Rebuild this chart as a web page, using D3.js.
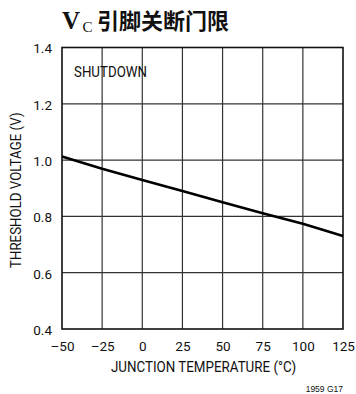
<!DOCTYPE html>
<html>
<head>
<meta charset="utf-8">
<script src="https://cdn.jsdelivr.net/npm/d3@7"></script>
<style>
  html, body { margin: 0; padding: 0; background: #fff; }
  svg { display: block; }
  .tick text, .lbl { font-family: "Roboto", "Liberation Sans", sans-serif; fill: #111; }
</style>
</head>
<body>
<svg id="chart" width="356" height="394"></svg>
<script>
// ─── Data ─────────────────────────────────────────────────────────────────────
const temps    = [-50, -25, 0, 25, 50, 75, 100, 125];
const vth      = [1.013, 0.969, 0.929, 0.890, 0.850, 0.811, 0.774, 0.730];
const xTicks   = [-50, -25, 0, 25, 50, 75, 100, 125];
const yTicks   = [0.4, 0.6, 0.8, 1.0, 1.2, 1.4];

const W = 356, H = 394;
const M = { top: 47.5, right: 13, bottom: 65, left: 62 };
const IW = W - M.left - M.right;
const IH = H - M.top - M.bottom;

const x = d3.scaleLinear().domain([-50, 125]).range([0, IW]);
const y = d3.scaleLinear().domain([0.4, 1.4]).range([IH, 0]);

const svg = d3.select('#chart');

// ── Title ───────────────────────────────────────────────────────────────────
svg.append('text').attr('x', 62).attr('y', 29).attr('fill', '#111')
  .attr('font-family', '"Liberation Serif", serif').attr('font-weight', 700)
  .attr('font-size', 25).text('V');
svg.append('text').attr('x', 82.5).attr('y', 31.5).attr('fill', '#111')
  .attr('font-family', '"Liberation Serif", serif').attr('font-size', 15).text('C');
svg.append('text').attr('x', 97).attr('y', 28.5).attr('fill', '#111')
  .attr('font-family', '"Noto Sans CJK SC", sans-serif').attr('font-weight', 700)
  .attr('font-size', 22).text('引脚关断门限');

const g = svg.append('g').attr('transform', `translate(${M.left},${M.top})`);

// ── Grid ────────────────────────────────────────────────────────────────────
g.selectAll('.vgrid').data(xTicks.slice(1, -1)).enter().append('line')
  .attr('class', 'vgrid')
  .attr('x1', d => x(d)).attr('x2', d => x(d))
  .attr('y1', 0).attr('y2', IH)
  .attr('stroke', '#333').attr('stroke-width', 1.2);

g.selectAll('.hgrid').data(yTicks.slice(1, -1)).enter().append('line')
  .attr('class', 'hgrid')
  .attr('x1', 0).attr('x2', IW)
  .attr('y1', d => y(d)).attr('y2', d => y(d))
  .attr('stroke', '#333').attr('stroke-width', 1.2);

g.append('rect').attr('width', IW).attr('height', IH)
  .attr('fill', 'none').attr('stroke', '#111').attr('stroke-width', 1.6);

// ── Axes ────────────────────────────────────────────────────────────────────
const xAxis = g.append('g').attr('transform', `translate(0,${IH})`)
  .call(d3.axisBottom(x).tickValues(xTicks).tickSize(0).tickPadding(12)
    .tickFormat(d => d < 0 ? '\u2013' + Math.abs(d) : d));
xAxis.select('.domain').remove();
xAxis.selectAll('text').attr('font-size', 13.5);

const yAxis = g.append('g')
  .call(d3.axisLeft(y).tickValues(yTicks).tickSize(0).tickPadding(10)
    .tickFormat(d3.format('.1f')));
yAxis.select('.domain').remove();
yAxis.selectAll('text').attr('font-size', 13.5).attr('dy', '0.4em');

// ── Series ──────────────────────────────────────────────────────────────────
const pts = temps.map((t, i) => [t, vth[i]]);
g.append('path').datum(pts)
  .attr('fill', 'none').attr('stroke', '#000').attr('stroke-width', 2.6)
  .attr('d', d3.line().x(d => x(d[0])).y(d => y(d[1])));

// ── Labels ──────────────────────────────────────────────────────────────────
g.append('text').attr('class', 'lbl')
  .attr('transform', 'translate(12,29) scale(0.95,1)')
  .attr('font-size', 14).text('SHUTDOWN');

svg.append('text').attr('class', 'lbl')
  .attr('transform', `translate(${M.left + IW / 2 + 1},372) scale(0.955,1)`)
  .attr('text-anchor', 'middle')
  .attr('font-size', 14).text('JUNCTION TEMPERATURE (°C)');

svg.append('text').attr('class', 'lbl')
  .attr('transform', `translate(20.5,${M.top + IH / 2 + 2}) rotate(-90) scale(0.95,1)`)
  .attr('text-anchor', 'middle').attr('font-size', 14)
  .text('THRESHOLD VOLTAGE (V)');

svg.append('text')
  .attr('x', 343).attr('y', 392).attr('text-anchor', 'end')
  .attr('font-family', '"Liberation Sans", sans-serif').attr('font-size', 8.5)
  .attr('fill', '#111').text('1959 G17');
</script>
</body>
</html>
